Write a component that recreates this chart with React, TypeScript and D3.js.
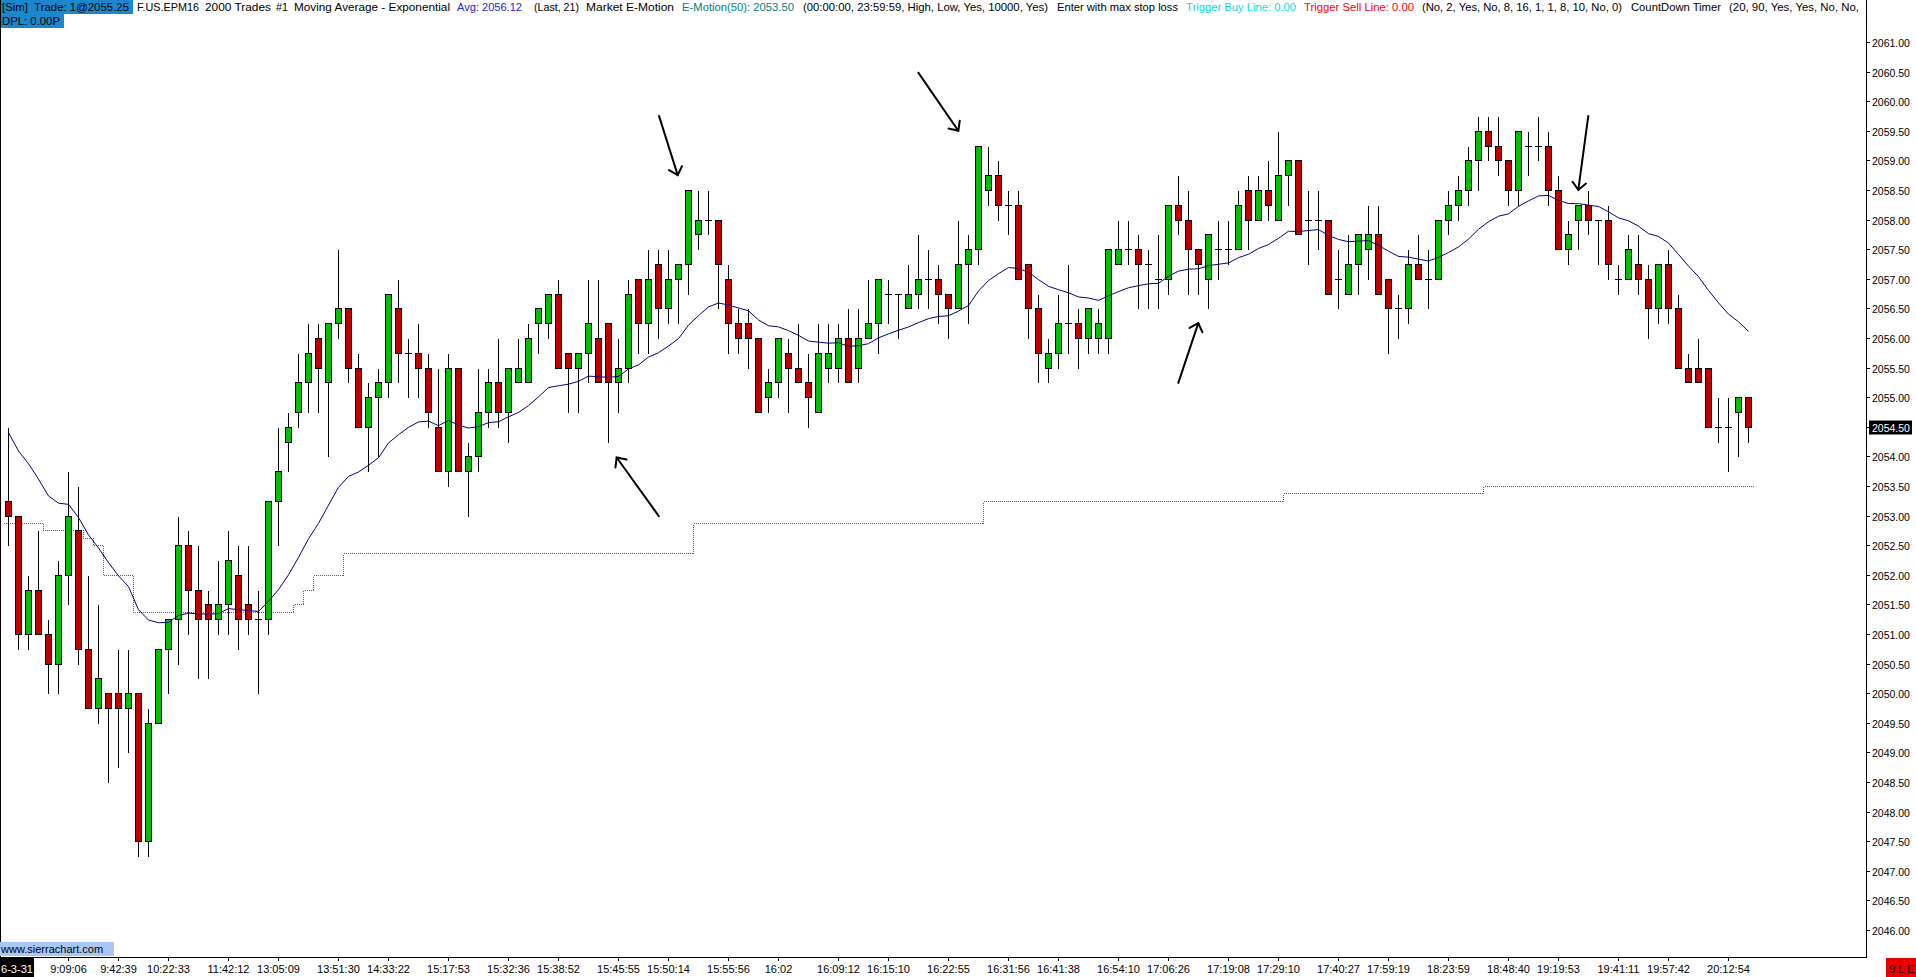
import React from "react";
import * as d3 from "d3";

// ---------- DATA ----------
const OPEN = [
  2053.25, 2053.0, 2051.0, 2051.75, 2051.0, 2050.5, 2052.0, 2052.75, 2050.75, 2049.75,
  2050.0, 2050.0, 2049.75, 2050.0, 2047.5, 2049.5, 2050.75, 2051.25, 2052.5, 2051.75,
  2051.5, 2051.25, 2051.5, 2052.0, 2051.5, 2051.25, 2051.25, 2053.25, 2054.25, 2054.75,
  2055.25, 2056.0, 2055.25, 2056.25, 2056.5, 2055.5, 2054.5, 2055.0, 2055.25, 2056.5,
  2055.75, 2055.75, 2055.5, 2054.5, 2053.75, 2055.5, 2053.75, 2054.0, 2054.75, 2055.25,
  2054.75, 2055.25, 2055.25, 2056.25, 2056.25, 2056.75, 2055.75, 2055.5, 2055.75, 2056.0,
  2056.25, 2055.25, 2055.5, 2057.0, 2056.25, 2057.25, 2056.5, 2057.0, 2057.25, 2057.75,
  2058.0, 2058.0, 2057.0, 2056.25, 2056.25, 2056.0, 2055.0, 2055.25, 2055.75, 2055.5,
  2055.25, 2054.75, 2055.5, 2055.5, 2056.0, 2055.5, 2056.0, 2056.25, 2056.75, 2056.75,
  2056.5, 2056.75, 2057.0, 2057.0, 2056.75, 2056.5, 2057.25, 2057.5, 2058.5, 2058.75,
  2058.25, 2058.25, 2057.25, 2056.5, 2055.5, 2055.75, 2056.25, 2056.25, 2056.0, 2056.0,
  2056.0, 2057.25, 2057.5, 2057.5, 2057.25, 2057.0, 2057.0, 2058.25, 2058.0, 2057.5,
  2057.0, 2057.5, 2057.5, 2057.5, 2058.5, 2058.0, 2058.5, 2058.0, 2058.75, 2059.0,
  2058.0, 2058.0, 2058.0, 2057.0, 2056.75, 2057.25, 2057.5, 2057.75, 2057.0, 2056.5,
  2056.5, 2057.25, 2057.0, 2057.0, 2058.0, 2058.25, 2058.5, 2059.0, 2059.5, 2059.25,
  2059.0, 2058.5, 2059.25, 2059.25, 2059.25, 2058.5, 2057.5, 2058.0, 2058.25, 2058.0,
  2058.0, 2057.0, 2057.0, 2057.25, 2057.0, 2056.5, 2057.25, 2056.5, 2055.5, 2055.5,
  2055.5, 2054.5, 2054.5, 2054.75, 2055.0,
];
const HIGH = [
  2054.5, 2053.0, 2052.0, 2052.75, 2051.25, 2052.25, 2053.75, 2053.5, 2052.0, 2051.5,
  2050.0, 2050.75, 2050.75, 2050.0, 2049.75, 2050.75, 2051.25, 2053.0, 2052.75, 2052.5,
  2051.75, 2052.25, 2052.75, 2052.5, 2052.5, 2051.75, 2053.25, 2054.5, 2054.75, 2055.75,
  2056.25, 2056.25, 2056.25, 2057.5, 2056.5, 2055.75, 2055.25, 2055.5, 2056.75, 2057.0,
  2056.0, 2056.25, 2055.75, 2055.5, 2055.75, 2055.5, 2054.25, 2055.5, 2055.5, 2056.0,
  2055.5, 2056.0, 2056.25, 2056.5, 2056.75, 2057.0, 2055.75, 2055.75, 2057.0, 2057.0,
  2056.25, 2056.0, 2057.0, 2057.0, 2057.5, 2057.5, 2057.5, 2057.25, 2058.5, 2058.5,
  2058.5, 2058.0, 2057.25, 2056.5, 2056.5, 2056.0, 2055.5, 2056.0, 2056.0, 2056.25,
  2055.75, 2056.25, 2056.25, 2056.25, 2056.5, 2056.5, 2057.0, 2057.0, 2057.0, 2056.75,
  2057.25, 2057.75, 2057.5, 2057.25, 2056.75, 2058.0, 2057.75, 2059.25, 2059.25, 2059.0,
  2058.5, 2058.5, 2057.25, 2056.75, 2056.0, 2056.75, 2057.25, 2056.5, 2056.5, 2056.5,
  2057.5, 2058.0, 2058.0, 2057.75, 2057.5, 2057.75, 2058.25, 2058.75, 2058.5, 2057.5,
  2057.75, 2058.0, 2058.0, 2058.5, 2058.75, 2058.75, 2059.0, 2059.5, 2059.0, 2059.0,
  2058.5, 2058.5, 2058.0, 2057.5, 2057.75, 2057.75, 2058.25, 2058.25, 2057.0, 2056.75,
  2057.5, 2057.75, 2057.5, 2058.0, 2058.5, 2058.75, 2059.25, 2059.75, 2059.75, 2059.75,
  2059.0, 2059.5, 2059.5, 2059.75, 2059.5, 2058.75, 2058.0, 2058.25, 2058.5, 2058.0,
  2058.25, 2057.25, 2057.75, 2057.75, 2057.25, 2057.25, 2057.5, 2056.75, 2055.75, 2056.0,
  2055.5, 2055.0, 2055.0, 2055.0, 2055.0,
];
const LOW = [
  2052.5, 2050.75, 2050.75, 2051.0, 2050.0, 2050.0, 2051.5, 2050.5, 2049.75, 2049.5,
  2048.5, 2048.75, 2049.0, 2047.25, 2047.25, 2049.5, 2050.0, 2050.5, 2051.0, 2050.25,
  2050.25, 2051.0, 2051.0, 2050.75, 2051.0, 2050.0, 2051.0, 2052.5, 2053.75, 2054.5,
  2054.75, 2054.75, 2054.0, 2056.0, 2055.25, 2054.5, 2053.75, 2054.0, 2055.0, 2055.25,
  2055.0, 2055.0, 2054.5, 2053.75, 2053.5, 2053.75, 2053.0, 2053.75, 2054.5, 2054.5,
  2054.25, 2055.25, 2055.25, 2055.75, 2056.0, 2055.5, 2054.75, 2054.75, 2055.25, 2055.25,
  2054.25, 2054.75, 2055.25, 2055.75, 2055.75, 2056.0, 2056.25, 2056.25, 2056.75, 2057.5,
  2057.75, 2056.5, 2055.75, 2055.75, 2055.5, 2054.75, 2054.75, 2055.0, 2054.75, 2055.25,
  2054.5, 2054.75, 2055.25, 2055.25, 2055.25, 2055.25, 2056.0, 2055.75, 2056.25, 2056.0,
  2056.5, 2056.5, 2056.5, 2056.25, 2056.0, 2056.5, 2056.25, 2057.25, 2058.25, 2058.0,
  2057.75, 2057.0, 2056.0, 2055.25, 2055.25, 2055.5, 2055.75, 2055.5, 2055.75, 2055.75,
  2055.75, 2057.25, 2057.25, 2056.5, 2056.5, 2056.5, 2056.75, 2057.75, 2056.75, 2056.75,
  2056.5, 2057.0, 2057.25, 2057.5, 2057.5, 2058.0, 2058.0, 2058.0, 2058.25, 2057.75,
  2057.25, 2057.5, 2056.75, 2056.5, 2056.75, 2056.75, 2057.0, 2056.75, 2055.75, 2056.0,
  2056.25, 2057.0, 2056.5, 2057.0, 2057.75, 2058.0, 2058.25, 2058.5, 2059.0, 2058.75,
  2058.25, 2058.25, 2058.75, 2059.0, 2058.25, 2057.5, 2057.25, 2057.5, 2057.75, 2057.25,
  2057.0, 2056.75, 2057.0, 2056.75, 2056.0, 2056.25, 2056.25, 2055.5, 2055.25, 2055.25,
  2054.5, 2054.25, 2053.75, 2054.0, 2054.25,
];
const CLOSE = [
  2053.0, 2051.0, 2051.75, 2051.0, 2050.5, 2052.0, 2053.0, 2050.75, 2049.75, 2050.25,
  2049.75, 2049.75, 2050.0, 2047.5, 2049.5, 2050.75, 2051.25, 2052.5, 2051.75, 2051.25,
  2051.25, 2051.5, 2052.25, 2051.25, 2051.25, 2051.25, 2053.25, 2053.75, 2054.5, 2055.25,
  2055.75, 2055.5, 2056.25, 2056.5, 2055.5, 2054.5, 2055.0, 2055.25, 2056.75, 2055.75,
  2055.75, 2055.5, 2054.75, 2053.75, 2055.5, 2053.75, 2054.0, 2054.75, 2055.25, 2054.75,
  2055.5, 2055.5, 2056.0, 2056.5, 2056.75, 2055.5, 2055.5, 2055.75, 2056.25, 2055.25,
  2055.25, 2055.5, 2056.75, 2056.25, 2057.0, 2056.5, 2057.0, 2057.25, 2058.5, 2058.0,
  2058.0, 2057.25, 2056.25, 2056.0, 2056.0, 2054.75, 2055.25, 2056.0, 2055.5, 2055.25,
  2055.0, 2055.75, 2055.75, 2056.0, 2055.25, 2056.0, 2056.25, 2057.0, 2056.75, 2056.75,
  2056.75, 2057.0, 2057.0, 2056.75, 2056.5, 2057.25, 2057.5, 2059.25, 2058.75, 2058.25,
  2058.25, 2057.0, 2056.5, 2055.75, 2055.75, 2056.25, 2056.25, 2056.0, 2056.5, 2056.25,
  2057.5, 2057.5, 2057.5, 2057.25, 2057.25, 2057.0, 2058.25, 2058.0, 2057.5, 2057.25,
  2057.75, 2057.5, 2057.5, 2058.25, 2058.0, 2058.5, 2058.25, 2058.75, 2059.0, 2057.75,
  2058.0, 2058.0, 2056.75, 2057.0, 2057.25, 2057.75, 2057.75, 2056.75, 2056.5, 2056.5,
  2057.25, 2057.0, 2057.0, 2058.0, 2058.25, 2058.5, 2059.0, 2059.5, 2059.25, 2059.0,
  2058.5, 2059.5, 2059.25, 2059.25, 2058.5, 2057.5, 2057.75, 2058.25, 2058.0, 2058.0,
  2057.25, 2057.0, 2057.5, 2057.0, 2056.5, 2057.25, 2056.5, 2055.5, 2055.25, 2055.25,
  2054.5, 2054.5, 2054.5, 2055.0, 2054.5,
];

// Exponential moving average (Last, 21); first plotted value
const EMA_LENGTH = 21;
const EMA_FIRST = 2054.41;

// E-Motion trigger line: stepped level, starting bar index + value
const EMOTION_FROM = [0, 4, 8, 9, 10, 13, 29, 30, 31, 34, 69, 98, 128, 148];
const EMOTION_VALUE = [
  2052.875, 2052.75, 2052.625, 2052.5, 2052.0, 2051.375, 2051.5, 2051.75, 2052.0,
  2052.375, 2052.875, 2053.25, 2053.375, 2053.5,
];

const Y_TICKS = [
  2046.0, 2046.5, 2047.0, 2047.5, 2048.0, 2048.5, 2049.0, 2049.5, 2050.0, 2050.5, 2051.0,
  2051.5, 2052.0, 2052.5, 2053.0, 2053.5, 2054.0, 2054.5, 2055.0, 2055.5, 2056.0, 2056.5,
  2057.0, 2057.5, 2058.0, 2058.5, 2059.0, 2059.5, 2060.0, 2060.5, 2061.0,
];
const LAST_PRICE = 2054.5;

const X_LABELS = [
  "9:09:06", "9:42:39", "10:22:33", "11:42:12", "13:05:09", "13:51:30", "14:33:22",
  "15:17:53", "15:32:36", "15:38:52", "15:45:55", "15:50:14", "15:55:56", "16:02",
  "16:09:12", "16:15:10", "16:22:55", "16:31:56", "16:41:38", "16:54:10", "17:06:26",
  "17:19:08", "17:29:10", "17:40:27", "17:59:19", "18:23:59", "18:48:40", "19:19:53",
  "19:41:11", "19:57:42", "20:12:54",
];
const X_LABEL_BARS = [
  6, 11, 16, 22, 27, 33, 38, 44, 50, 55, 61, 66, 72, 77, 83, 88, 94, 100, 105, 111, 116,
  122, 127, 133, 138, 144, 150, 155, 161, 166, 172,
];
const DATE_LABEL = "6-3-31";

// hand-drawn arrows: [tailBar, tailPrice, tipBar, tipPrice]
const ARROWS = [
  [65.05, 2059.76, 66.92, 2058.76],
  [90.98, 2060.49, 94.98, 2059.51],
  [65.03, 2053.0, 60.82, 2053.99],
  [116.98, 2055.25, 118.98, 2056.26],
  [157.98, 2059.76, 156.98, 2058.51],
];

const HEADER_TEXTS = [
  "[Sim]  Trade: 1@2055.25", "F.US.EPM16", "2000 Trades", "#1",
  "Moving Average - Exponential", "Avg: 2056.12", "(Last, 21)", "Market E-Motion",
  "E-Motion(50): 2053.50", "(00:00:00, 23:59:59, High, Low, Yes, 10000, Yes)",
  "Enter with max stop loss", "Trigger Buy Line: 0.00", "Trigger Sell Line: 0.00",
  "(No, 2, Yes, No, 8, 16, 1, 1, 8, 10, No, 0)", "CountDown Timer",
  "(20, 90, Yes, Yes, No, No,",
];
const HEADER_LINE2 = "DPL: 0.00P";
const WATERMARK = "www.sierrachart.com";
const STATUS_TEXT = "9 L E";

// ---------- LAYOUT / STYLE ----------
const HEADER_X = [2, 137, 205, 276, 294, 457, 534, 586, 682, 803, 1057, 1186, 1304, 1422, 1631, 1729];
const HEADER_W = [127, 62, 66, 12, 156, 65, 45, 88, 112, 245, 121, 110, 110, 200, 90, 130];
const HEADER_COLORS = [
  "#000", "#000", "#000", "#000", "#000", "#2424c8", "#000", "#000", "#008080", "#000",
  "#000", "#00e0e0", "#ff0000", "#000", "#000", "#000",
];
const FONT = "'Liberation Sans', Arial, sans-serif";
const UP = "#00c000";
const DOWN = "#c00000";

export default function App() {
  const W = 1916;
  const H = 977;
  const N = CLOSE.length;
  const plotRight = 1866.5;
  const axisY = 957.5;

  const x = d3.scaleLinear().domain([0, N - 1]).range([8.5, 8.5 + 10 * (N - 1)]);
  const y = d3.scaleLinear().domain([2046, 2061]).range([930.5, 42.5]);
  const sy = (p: number) => Math.round(y(p) - 0.5) + 0.5;

  // EMA
  const k = 2 / (EMA_LENGTH + 1);
  const ema: number[] = [];
  CLOSE.forEach((c, i) => {
    ema.push(i === 0 ? EMA_FIRST : ema[i - 1] + k * (c - ema[i - 1]));
  });
  const emaPath = d3
    .line<number>()
    .x((_, i) => x(i))
    .y((d) => y(d))(ema) as string;

  // Stepped E-Motion line
  const stepPts: [number, number][] = EMOTION_FROM.map((f, j) => [x(f) - 5, EMOTION_VALUE[j]]);
  stepPts.push([x(N - 1) + 5, EMOTION_VALUE[EMOTION_VALUE.length - 1]]);
  const stepPath = d3
    .line<[number, number]>()
    .x((d) => d[0])
    .y((d) => sy(d[1]))
    .curve(d3.curveStepAfter)(stepPts) as string;

  const arrowEls = ARROWS.map((a, idx) => {
    const x1 = x(a[0]);
    const y1 = y(a[1]);
    const x2 = x(a[2]);
    const y2 = y(a[3]);
    const ang = Math.atan2(y2 - y1, x2 - x1);
    const len = 10;
    const spread = Math.PI / 4.2;
    const ax1 = x2 - len * Math.cos(ang - spread);
    const ay1 = y2 - len * Math.sin(ang - spread);
    const ax2 = x2 - len * Math.cos(ang + spread);
    const ay2 = y2 - len * Math.sin(ang + spread);
    return (
      <g key={"a" + idx} stroke="#000" strokeWidth={2} fill="none" strokeLinecap="round">
        <line x1={x1} y1={y1} x2={x2} y2={y2} />
        <polyline points={`${ax1},${ay1} ${x2},${y2} ${ax2},${ay2}`} />
      </g>
    );
  });

  return (
    <svg
      width={W}
      height={H}
      style={{ position: "fixed", left: 0, top: 0, background: "#fff", display: "block" }}
      fontFamily={FONT}
    >
      <defs>
        <clipPath id="hdrclip">
          <rect x={0} y={0} width={plotRight - 0.5} height={30} />
        </clipPath>
      </defs>
      <rect x={0} y={0} width={W} height={H} fill="#fff" />

      {/* header */}
      <g clipPath="url(#hdrclip)" fontSize={11.5}>
        <rect x={0} y={0} width={133} height={14} fill="#1a88cc" />
        <rect x={0} y={14} width={64} height={14} fill="#1a88cc" />
        {HEADER_TEXTS.map((t, i) => (
          <text
            key={"h" + i}
            x={HEADER_X[i]}
            y={11}
            fill={HEADER_COLORS[i]}
            textLength={HEADER_W[i]}
            lengthAdjust="spacingAndGlyphs"
            xmlSpace="preserve"
          >
            {t}
          </text>
        ))}
        <text x={2} y={25} fill="#000" textLength={58} lengthAdjust="spacingAndGlyphs">
          {HEADER_LINE2}
        </text>
      </g>

      {/* frame */}
      <g stroke="#000" strokeWidth={1} shapeRendering="crispEdges">
        <line x1={0.5} y1={0} x2={0.5} y2={axisY} />
        <line x1={plotRight} y1={0} x2={plotRight} y2={axisY} />
        <line x1={0} y1={axisY} x2={plotRight} y2={axisY} />
      </g>

      {/* E-Motion stepped line */}
      <path d={stepPath} fill="none" stroke="#008080" strokeWidth={1} strokeDasharray="1 1" shapeRendering="crispEdges" />

      {/* candles */}
      <g shapeRendering="crispEdges">
        {CLOSE.map((c, i) => {
          const o = OPEN[i];
          const cx = x(i);
          const top = Math.min(sy(o), sy(c));
          const bot = Math.max(sy(o), sy(c));
          return (
            <g key={"c" + i}>
              <line x1={cx} x2={cx} y1={sy(HIGH[i])} y2={sy(LOW[i])} stroke="#000" />
              {o === c ? (
                <line x1={cx - 3.5} x2={cx + 3.5} y1={top} y2={top} stroke="#000" />
              ) : (
                <rect x={cx - 3} y={top} width={6} height={bot - top} fill={c > o ? UP : DOWN} stroke="#000" />
              )}
            </g>
          );
        })}
      </g>

      {/* EMA */}
      <path d={emaPath} fill="none" stroke="#000080" strokeWidth={1} />

      {/* arrows */}
      {arrowEls}

      {/* y axis */}
      <g fontSize={10.5}>
        {Y_TICKS.map((v) => (
          <g key={"y" + v}>
            <line x1={plotRight} x2={plotRight + 3} y1={sy(v)} y2={sy(v)} stroke="#000" shapeRendering="crispEdges" />
            <text x={1872} y={sy(v) + 4} fill="#000">
              {v.toFixed(2)}
            </text>
          </g>
        ))}
        <rect x={1869} y={sy(LAST_PRICE) - 7} width={43} height={14} fill="#000" />
        <text x={1872} y={sy(LAST_PRICE) + 4} fill="#fff">
          {LAST_PRICE.toFixed(2)}
        </text>
      </g>

      {/* x axis */}
      <g fontSize={11}>
        {X_LABELS.map((t, i) => (
          <g key={"x" + i}>
            <line x1={x(X_LABEL_BARS[i])} x2={x(X_LABEL_BARS[i])} y1={axisY} y2={axisY + 3} stroke="#000" shapeRendering="crispEdges" />
            <text x={x(X_LABEL_BARS[i])} y={973} textAnchor="middle" fill="#000">
              {t}
            </text>
          </g>
        ))}
        <rect x={0} y={958} width={34} height={19} fill="#000" />
        <text x={1} y={973} fill="#fff" textLength={32} lengthAdjust="spacingAndGlyphs">
          {DATE_LABEL}
        </text>
        <rect x={1886} y={958} width={30} height={19} fill="#ee0000" />
        <text x={1889} y={973} fill="#000">
          {STATUS_TEXT}
        </text>
      </g>

      {/* watermark */}
      <rect x={0} y={942} width={114} height={14} fill="#a9c6f4" />
      <text x={1} y={953} fontSize={11} fill="#000">
        {WATERMARK}
      </text>
    </svg>
  );
}
